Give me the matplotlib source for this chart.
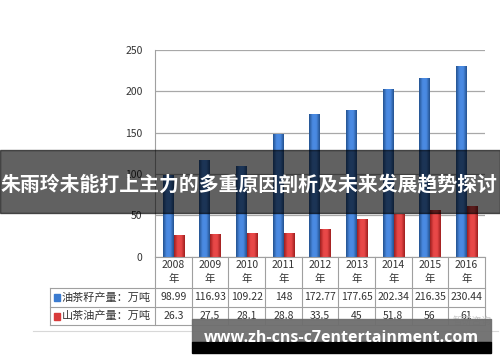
import numpy as np
import matplotlib
matplotlib.use('Agg')
from matplotlib import pyplot as plt
from matplotlib import transforms
from matplotlib.patches import Rectangle
from matplotlib.lines import Line2D

plt.rcParams['font.family'] = ['Noto Sans CJK SC', 'DejaVu Sans']

years = ['2008', '2009', '2010', '2011', '2012', '2013', '2014', '2015', '2016']
seed_output = [98.99, 116.93, 109.22, 148, 172.77, 177.65, 202.34, 216.35, 230.44]
oil_output = [26.3, 27.5, 28.1, 28.8, 33.5, 45, 51.8, 56, 61]
seed_label = '油茶籽产量：万吨'
oil_label = '山茶油产量：万吨'
y_ticks = [0, 50, 100, 150, 200, 250]
banner_text = '朱雨玲未能打上主力的多重原因剖析及未来发展趋势探讨'
site_text = 'www.zh-cns-c7entertainment.com'

W, H = 500, 362


def fy(py):
    # pixel from top -> figure fraction
    return 1 - py / H


def fx(px):
    return px / W


fig = plt.figure(figsize=(W / 100, H / 100), dpi=100)
ax = fig.add_axes([fx(155), fy(256.7), fx(485) - fx(155), fy(50) - fy(256.7)])

x = np.arange(len(years))
bw = 0.3
blue_bars = ax.bar(x - 0.14, seed_output, width=bw, color='#3b7bd0', zorder=3)
red_bars = ax.bar(x + 0.16, oil_output, width=bw, color='#d83a3a', zorder=3)


def shade(bars, dark, light):
    cmap = matplotlib.colors.LinearSegmentedColormap.from_list('c', [dark, light, light, dark])
    grad = np.linspace(0, 1, 64).reshape(1, -1)
    for b in bars:
        x0, y0 = b.get_x(), b.get_y()
        im = ax.imshow(grad, extent=[x0, x0 + b.get_width(), y0, y0 + b.get_height()],
                       cmap=cmap, aspect='auto', zorder=3.5, interpolation='bilinear')
        im.set_clip_path(b)


shade(blue_bars, '#24528f', '#4a8ae2')
shade(red_bars, '#9e1e1e', '#e84848')

ax.set_xlim(-0.5, len(years) - 0.5)
ax.set_ylim(0, 250)
ax.set_yticks(y_ticks)
ax.set_xticks([])
ax.tick_params(axis='y', length=0, pad=9, labelsize=7.5, labelcolor='#333333')
ax.grid(axis='y', color='#a8a8a8', linewidth=0.9, zorder=0)
for s in ['top', 'right', 'bottom']:
    ax.spines[s].set_visible(False)
ax.spines['left'].set_color('#a0a0a0')

# data table under the plot
grid_c = '#a0a0a0'
tr = transforms.blended_transform_factory(ax.transData, fig.transFigure)
for i in range(len(years) + 1):
    fig.add_artist(Line2D([i - 0.5, i - 0.5], [fy(256.7), fy(325)], transform=tr,
                          color=grid_c, linewidth=0.8))
fig.add_artist(Line2D([fx(155), fx(485)], [fy(256.7), fy(256.7)], color=grid_c, linewidth=0.8))
for py in [288, 307, 325]:
    fig.add_artist(Line2D([fx(50), fx(485)], [fy(py), fy(py)], color=grid_c, linewidth=0.8))
fig.add_artist(Line2D([fx(50), fx(50)], [fy(288), fy(325)], color=grid_c, linewidth=0.8))

for i, yr in enumerate(years):
    fig.text(i, fy(265), yr, transform=tr, ha='center', va='center', fontsize=7.5, color='#333333')
    fig.text(i, fy(279), '年', transform=tr, ha='center', va='center', fontsize=7.5, color='#333333')
    fig.text(i, fy(297.5), f'{seed_output[i]:g}', transform=tr, ha='center', va='center',
             fontsize=7.5, color='#333333')
    fig.text(i, fy(316), f'{oil_output[i]:g}', transform=tr, ha='center', va='center',
             fontsize=7.5, color='#333333')

fig.add_artist(Rectangle((fx(54), fy(301)), fx(6), fy(294) - fy(301), color='#3b7bd0'))
fig.add_artist(Rectangle((fx(54), fy(320)), fx(6), fy(313) - fy(320), color='#d83a3a'))
fig.text(fx(62), fy(297.5), seed_label, ha='left', va='center', fontsize=8, color='#333333')
fig.text(fx(62), fy(316), oil_label, ha='left', va='center', fontsize=8, color='#333333')

fig.add_artist(Line2D([fx(33), fx(498)], [fy(331), fy(331)], color='#d8d8d8', linewidth=0.8))
fig.text(fx(472), fy(321), '智研咨询', ha='center', va='center', fontsize=7, color='#c8c8c8')

# overlays
fig.add_artist(Rectangle((0, fy(213)), 1, fy(150) - fy(213), color='black', alpha=0.62, zorder=10))
fig.text(fx(1), fy(184), banner_text, ha='left', va='center', fontsize=14.3,
         fontweight='bold', color='white', zorder=11)

fig.add_artist(Rectangle((fx(192), fy(342)), fx(491) - fx(192), fy(319) - fy(342),
                         color='#6e6e6e', alpha=0.95, zorder=10))
fig.add_artist(Rectangle((fx(192), fy(353)), fx(491) - fx(192), fy(342) - fy(353),
                         color='black', zorder=10))
fig.text(fx(341), fy(341.5), site_text, ha='center', va='baseline', fontsize=11.5,
         fontweight='bold', color='white', family=['Open Sans', 'DejaVu Sans'], zorder=11)

fig.savefig('out.png', dpi=100)
